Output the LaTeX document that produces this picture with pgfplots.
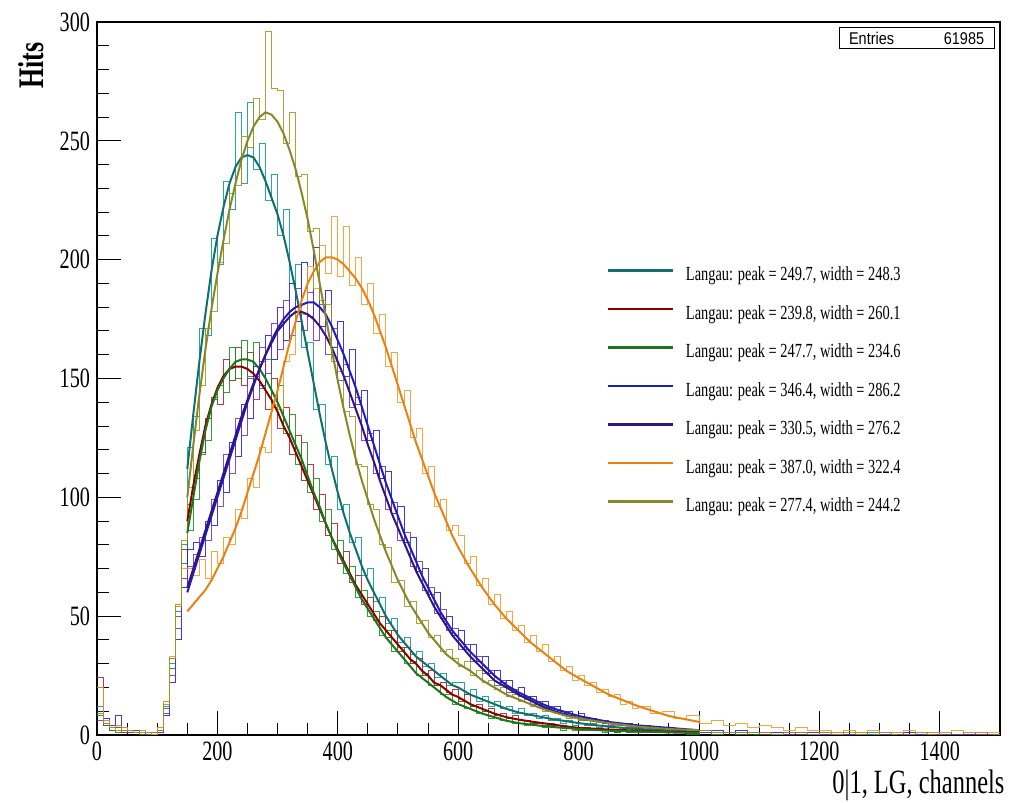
\documentclass[border=0pt]{standalone}
\usepackage{fontspec}
\setmainfont{Liberation Serif}[FakeStretch=0.72]
\newfontfamily\statfont{Liberation Sans}[FakeStretch=0.85]
\usepackage{pgfplots}
\usepackage{pgfplotstable}
\pgfplotsset{compat=1.18}

% histogram colours (H) and fit colours (F)
\definecolor{tealH}{RGB}{0,150,150}
\definecolor{tealF}{RGB}{20,110,110}
\definecolor{redH}{RGB}{175,25,25}
\definecolor{redF}{RGB}{140,0,0}
\definecolor{greenH}{RGB}{20,140,20}
\definecolor{greenF}{RGB}{30,115,30}
\definecolor{blueH}{RGB}{25,25,225}
\definecolor{blueF}{RGB}{30,30,185}
\definecolor{purpH}{RGB}{110,45,205}
\definecolor{purpF}{RGB}{50,20,130}
\definecolor{orangeH}{RGB}{242,150,30}
\definecolor{orangeF}{RGB}{232,130,20}
\definecolor{oliveH}{RGB}{150,150,20}
\definecolor{oliveF}{RGB}{135,135,45}

% histograms, 10-channel bins up to 900, 20-channel bins after
\pgfplotstableread{
x T R G B P O Y
0 12 24 8 10 6 20 9
10 5 6 4 7 4 6 5
20 3 2 2 4 3 3 3
30 2 3 1 8 2 2 4
40 3 1 2 3 2 3 2
50 2 1 1 2 1 2 2
60 1 2 1 1 2 1 1
70 1 1 0 1 1 1 2
80 1 0 1 1 0 1 1
90 0 1 0 0 1 0 1
100 2 3 2 1 1 3 2
110 12 14 11 8 9 14 13
120 30 32 28 22 25 33 32
130 52 55 50 40 45 55 54
140 80 78 72 62 66 70 82
150 121 97 86 78 71 70 104
160 134 108 99 81 76 67 128
170 171 119 118 75 83 74 147
180 168 133 124 90 82 66 171
190 209 142 141 88 99 77 178
200 198 139 147 107 96 72 199
210 233 158 144 102 118 83 207
220 221 149 163 123 110 80 228
230 262 163 150 117 133 95 231
240 232 147 166 139 126 91 252
250 266 161 151 133 150 108 247
260 238 151 165 155 141 104 268
270 249 157 146 147 163 121 259
280 225 137 158 168 152 119 296
290 236 150 138 158 173 139 272
300 210 129 147 180 162 137 271
310 221 138 127 166 183 157 249
320 190 118 135 190 168 160 262
330 198 126 114 174 188 180 235
340 163 107 123 199 170 177 236
350 165 114 102 176 186 197 212
360 137 95 108 205 166 188 213
370 139 101 90 172 181 206 183
380 114 84 95 187 160 194 181
390 117 89 78 163 171 218 157
400 95 72 82 174 149 193 153
410 97 77 68 151 156 214 136
420 81 64 71 162 138 189 134
430 83 67 58 139 142 201 114
440 67 55 61 145 124 181 113
450 70 58 50 124 127 190 97
460 56 48 52 128 110 169 95
470 58 50 42 108 113 177 80
480 47 41 44 111 95 155 79
490 49 44 35 93 98 161 64
500 39 35 37 96 82 140 65
510 41 37 30 81 85 145 54
520 34 30 31 83 71 125 56
530 35 32 25 69 73 129 47
540 29 25 26 70 61 110 48
550 30 27 21 59 62 113 41
560 24 21 21 60 51 96 42
570 26 22 17 49 53 99 35
580 21 18 17 50 44 86 36
590 22 19 13 42 45 88 32
600 22 14 15 44 36 84 29
610 17 17 11 36 38 72 31
620 19 12 12 38 31 75 25
630 14 13 9 31 33 63 27
640 16 10 10 33 26 66 22
650 12 11 7 26 27 55 23
660 14 8 8 27 21 59 19
670 11 9 6 22 23 49 20
680 12 7 7 23 18 52 16
690 9 8 5 18 19 44 17
700 11 6 6 20 16 46 14
710 8 6 4 15 16 39 15
720 9 5 5 16 13 42 12
730 7 5 4 13 14 35 12
740 8 4 3 14 11 38 10
750 6 5 4 11 12 31 11
760 7 3 3 12 9 33 9
770 5 4 2 9 10 27 9
780 6 3 3 10 8 29 7
790 4 3 2 8 8 23 8
800 5 2 3 9 6 25 6
810 4 3 2 7 7 21 6
820 4 2 2 7 5 22 5
830 3 2 2 6 6 18 6
840 4 2 1 6 5 19 4
850 3 2 2 5 4 16 5
860 3 1 1 5 5 17 4
870 2 2 2 4 4 13 4
880 3 1 1 5 3 14 3
890 2 2 1 3 4 11 3
900 2 1 1 4 3 12 3
920 2 1 1 3 3 9 2
940 2 1 1 3 2 10 2
960 1 1 1 2 2 7 2
980 2 1 0 2 2 8 1
1000 1 1 1 2 1 5 2
1020 1 0 0 2 2 6 1
1040 1 1 1 1 1 4 1
1060 1 0 0 2 1 5 1
1080 1 1 0 1 1 3 1
1100 0 0 1 1 1 4 1
1120 1 0 0 1 1 3 0
1140 1 1 0 1 0 2 1
1160 0 0 0 1 1 3 1
1180 1 0 0 0 1 2 0
1200 0 0 0 1 0 2 1
1220 1 0 0 1 1 1 0
1240 0 0 0 0 0 2 1
1260 0 0 0 1 1 1 0
1280 1 0 0 0 0 2 0
1300 0 0 0 1 0 1 1
1320 0 0 0 0 1 1 0
1340 0 0 0 1 0 2 0
1360 0 0 0 0 0 1 1
1380 1 0 0 0 1 1 0
1400 0 0 0 1 0 1 0
1420 0 0 0 0 0 2 0
1440 0 0 0 0 1 1 0
1460 0 0 0 1 0 1 0
1480 0 0 0 0 0 1 0
1500 0 0 0 0 0 1 0
}\histdata

% Langau fit curves
\pgfplotstableread{
x T R G B P O Y
150 112 90 85 60 62 52 100
160 135 105 100 68 70 55 122
170 157 118 115 76 78 58 143
180 177 130 128 84 86 61 162
190 195 139 138 92 94 65 179
200 210 146 145 100 102 70 194
210 222 151 150 108 110 75 208
220 232 154 154 116 118 81 221
230 239 155 157 124 126 87 232
240 243 155 158 132 134 94 242
250 244 154 158 140 141 102 250
260 243 152 157 147 148 110 256
270 239 149 154 154 154 118 260
280 233 145 150 160 160 127 262
290 226 141 145 166 165 136 261
300 219 136 140 171 170 145 258
310 210 130 134 175 173 155 253
320 199 125 128 178 176 165 246
330 187 119 122 180 178 174 238
340 174 113 116 181 178 183 228
350 161 107 109 182 177 190 217
360 148 101 102 182 175 195 204
370 135 95 96 180 172 199 190
380 123 89 89 177 168 201 176
390 112 83 83 172 163 201 162
400 102 78 77 166 157 200 149
410 93 73 72 160 151 198 137
420 85 68 67 153 144 195 126
430 78 63 62 146 137 192 116
440 71 59 57 138 130 188 107
450 65 55 53 130 122 183 99
460 60 51 49 122 115 177 91
470 55 47 45 114 107 170 84
480 50 44 41 106 100 163 77
490 46 41 38 99 93 155 71
500 42 38 35 92 87 147 65
510 39 35 32 85 81 139 60
520 36 32 29 79 75 131 55
530 33 30 26 73 69 123 51
540 31 27 24 67 64 116 47
550 29 25 22 62 59 109 43
560 27 22 20 57 54 102 40
570 25 21 18 52 50 96 37
580 23 19 16 48 46 90 34
590 21 17 14.5 44 42 84 32
600 20 16 13 41 39 79 30
620 17 13 11 35 33 70 27
640 15 11 9 30 28 62 23
660 13 9 7.5 25 23 55 20
680 11 7.5 6 21 20 49 17
700 9.5 6.5 5 18 17 44 15
720 8.5 5.7 4.4 15.5 14.5 39 13
740 7.5 5 3.8 13 12 35 11
760 6.5 4.3 3.3 11 10 31 9.5
780 5.8 3.6 2.9 9.5 8.5 27 8
800 5 3 2.5 8 7 24 7
850 3.5 2.3 1.8 5.5 5 17 5
900 2.5 1.8 1.5 4 3.5 12 3.5
950 2 1.3 1.1 3 2.5 8 2.5
1000 1.5 1 0.8 2 1.8 5.5 2
}\fitdata

\begin{document}
\begin{tikzpicture}
\begin{axis}[
  scale only axis,
  width=451.5pt, height=356.5pt,
  xmin=0, xmax=1500, ymin=0, ymax=300,
  xtick={0,200,...,1400}, minor x tick num=3,
  ytick={0,50,...,300}, minor y tick num=4,
  tick align=inside, tick pos=left,
  major tick length=12pt, minor tick length=6pt,
  tick style={black, line width=0.5pt},
  axis line style={line width=0.6pt},
  scaled ticks=false,
  /pgf/number format/1000 sep={},
  /pgf/number format/assume math mode=true,
  tick label style={font=\fontsize{14}{16}\selectfont},
  xlabel={0|1, LG, channels},
  ylabel={Hits},
  every axis x label/.style={at={(rel axis cs:1,0)}, anchor=north east,
    xshift=5.8pt, yshift=-14pt, font=\fontsize{17}{20}\selectfont},
  every axis y label/.style={at={(rel axis cs:-0.0875,0.972)}, rotate=90,
    anchor=north east, inner sep=0pt, font=\bfseries\fontsize{18}{20}\selectfont},
  legend cell align=left,
  legend image code/.code={\draw[#1, line width=1.3pt] (0pt,2.5pt) -- (32.5pt,2.5pt);},
  legend style={draw=none, fill=none, at={(rel axis cs:0.557,0.663)},
    anchor=north west, font=\fontsize{10}{12}\selectfont,
    row sep=10.25pt, column sep=6pt,
    nodes={inner sep=0pt, text height=7pt, text depth=2pt}},
]
\addplot[const plot, tealH, line width=0.5pt, opacity=0.85, forget plot] table[x=x, y=T] {\histdata};
\addplot[const plot, redH, line width=0.5pt, opacity=0.85, forget plot] table[x=x, y=R] {\histdata};
\addplot[const plot, greenH, line width=0.5pt, opacity=0.85, forget plot] table[x=x, y=G] {\histdata};
\addplot[const plot, blueH, line width=0.5pt, opacity=0.85, forget plot] table[x=x, y=B] {\histdata};
\addplot[const plot, purpH, line width=0.5pt, opacity=0.85, forget plot] table[x=x, y=P] {\histdata};
\addplot[const plot, orangeH, line width=0.5pt, opacity=0.85, forget plot] table[x=x, y=O] {\histdata};
\addplot[const plot, oliveH, line width=0.5pt, opacity=0.85, forget plot] table[x=x, y=Y] {\histdata};

\addplot[tealF, line width=1pt] table[x=x, y=T] {\fitdata};
\addlegendentry{Langau: peak = 249.7, width = 248.3}
\addplot[redF, line width=1pt] table[x=x, y=R] {\fitdata};
\addlegendentry{Langau: peak = 239.8, width = 260.1}
\addplot[greenF, line width=1pt] table[x=x, y=G] {\fitdata};
\addlegendentry{Langau: peak = 247.7, width = 234.6}
\addplot[blueF, line width=1pt] table[x=x, y=B] {\fitdata};
\addlegendentry{Langau: peak = 346.4, width = 286.2}
\addplot[purpF, line width=1pt] table[x=x, y=P] {\fitdata};
\addlegendentry{Langau: peak = 330.5, width = 276.2}
\addplot[orangeF, line width=1pt] table[x=x, y=O] {\fitdata};
\addlegendentry{Langau: peak = 387.0, width = 322.4}
\addplot[oliveF, line width=1pt] table[x=x, y=Y] {\fitdata};
\addlegendentry{Langau: peak = 277.4, width = 244.2}

% statistics box
\node[draw, fill=white, line width=0.5pt, anchor=north east, inner sep=0pt,
  minimum width=77.5pt, minimum height=10.5pt,
  font=\statfont\fontsize{8.5}{10}\selectfont]
  at (rel axis cs:0.994,0.993) {\makebox[67.5pt]{Entries\hfill 61985}};
\end{axis}
\pgfresetboundingbox
\useasboundingbox ([xshift=-48.5pt,yshift=-34pt]current axis.south west)
  rectangle ([xshift=6.5pt,yshift=11pt]current axis.north east);
\end{tikzpicture}
\end{document}
